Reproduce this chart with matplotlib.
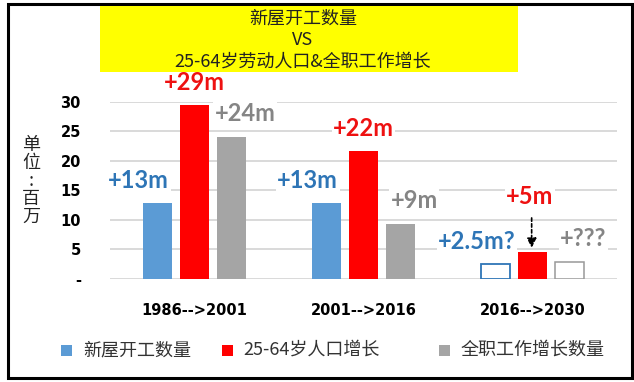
import matplotlib
matplotlib.use("Agg")
import matplotlib.pyplot as plt
from matplotlib.patches import Rectangle

# ---- data ----
categories = ["1986-->2001", "2001-->2016", "2016-->2030"]
housing_starts = [12.8, 12.8, 2.5]
pop_growth = [29.4, 21.7, 4.6]
job_growth = [24.1, 9.3, 2.9]
housing_labels = ["+13m", "+13m", "+2.5m?"]
pop_labels = ["+29m", "+22m", "+5m"]
job_labels = ["+24m", "+9m", "+???"]
yticks = [0, 5, 10, 15, 20, 25, 30]
ytick_labels = ["-", "5", "10", "15", "20", "25", "30"]
series_names = ["新屋开工数量", "25-64岁人口增长", "全职工作增长数量"]
title_lines = ["新屋开工数量", "VS", "25-64岁劳动人口&全职工作增长"]
ylabel = "单\n位\n:\n百\n万"
hollow = [False, False, True]  # projected period drawn as outlines

CJK = ["Noto Sans CJK SC", "DejaVu Sans"]
NUM = ["Lato", "DejaVu Sans"]

c_blue, c_red, c_gray = "#5B9BD5", "#FF0000", "#A5A5A5"
t_blue, t_red, t_gray = "#2E75B6", "#EE1111", "#858585"

W, H = 634, 382
fig = plt.figure(figsize=(W / 100, H / 100), dpi=100)
fig.patch.set_facecolor("white")

def fx(px):
    return px / W

def fy(py):
    return 1 - py / H

# outer frame
fig.add_artist(Rectangle((fx(8), fy(378)), fx(632) - fx(8), fy(4) - fy(378),
                         transform=fig.transFigure, fill=False, edgecolor="black", lw=2.2))

# title box
fig.add_artist(Rectangle((fx(100), fy(72)), fx(518) - fx(100), fy(6) - fy(72),
                         transform=fig.transFigure, facecolor="#FFFF00", edgecolor="none"))
for line, py in zip(title_lines, [18, 40, 62]):
    fig.text(fx(303), fy(py), line, ha="center", va="center", fontsize=13,
             family=CJK, color="#222222")

ax = fig.add_axes([fx(110), fy(279), fx(617) - fx(110), fy(101.7) - fy(279)])
ax.set_xlim(-0.5, 2.5)
ax.set_ylim(0, 30)

x = list(range(len(categories)))
off, bw = 0.221, 0.172
for i in x:
    if hollow[i]:
        ax.bar(i - off, housing_starts[i], bw, facecolor="white", edgecolor=t_blue, lw=1.3, zorder=3)
        ax.bar(i + off, job_growth[i], bw, facecolor="white", edgecolor="#999999", lw=1.1, zorder=3)
    else:
        ax.bar(i - off, housing_starts[i], bw, color=c_blue, zorder=3)
        ax.bar(i + off, job_growth[i], bw, color=c_gray, zorder=3)
    ax.bar(i, pop_growth[i], bw, color=c_red, zorder=3)

bbox = dict(facecolor="white", edgecolor="none", pad=1.0)
lab_kw = dict(ha="center", va="center", fontsize=17, fontweight="bold", family=NUM,
              clip_on=False, zorder=5, bbox=bbox)
for i in x:
    ax.text(i - 0.33, housing_starts[i] + 3.9, housing_labels[i], color=t_blue, **lab_kw)
    ax.text(i + 0.30, job_growth[i] + 3.9, job_labels[i], color=t_gray, **lab_kw)
    if hollow[i]:
        ax.text(i - 0.015, pop_growth[i] + 9.4, pop_labels[i], color=t_red, **lab_kw)
        ax.annotate("", xy=(i - 0.005, pop_growth[i] + 0.2), xytext=(i - 0.005, pop_growth[i] + 6.2),
                    arrowprops=dict(arrowstyle="-|>", linestyle=(0, (2, 1.5)), color="black",
                                    lw=1.2, mutation_scale=14), zorder=6)
    else:
        ax.text(i, pop_growth[i] + 3.8, pop_labels[i], color=t_red, **lab_kw)

# grid and ticks
ax.set_yticks(yticks)
ax.set_yticklabels(ytick_labels, fontweight="bold", fontsize=10.5, family="DejaVu Sans")
ax.yaxis.grid(True, color="#D9D9D9", lw=1.4, zorder=0)
ax.set_axisbelow(True)
ax.tick_params(axis="y", length=0, pad=21)
for lbl in ax.get_yticklabels():
    lbl.set_horizontalalignment("right")
ax.set_xticks(x)
ax.set_xticklabels(categories, fontweight="bold", fontsize=10.5, family="DejaVu Sans")
ax.tick_params(axis="x", length=0, pad=17)
for s in ax.spines.values():
    s.set_visible(False)
ax.set_facecolor("none")

# y label
fig.text(fx(31), fy(181), ylabel, ha="center", va="center", fontsize=13,
         family=CJK, linespacing=1.0, color="#222222")

# legend
leg_items = [(c_blue, 61, 83), (c_red, 222, 243), (c_gray, 439, 461)]
for (col, sx, tx), name in zip(leg_items, series_names):
    fig.add_artist(Rectangle((fx(sx), fy(356)), fx(11) - fx(0), fy(0) - fy(11),
                             transform=fig.transFigure, facecolor=col, edgecolor="none"))
    fig.text(fx(tx), fy(350), name, ha="left", va="center", fontsize=13,
             family=CJK, color="#333333")

fig.savefig("out.png", dpi=100, facecolor="white")
